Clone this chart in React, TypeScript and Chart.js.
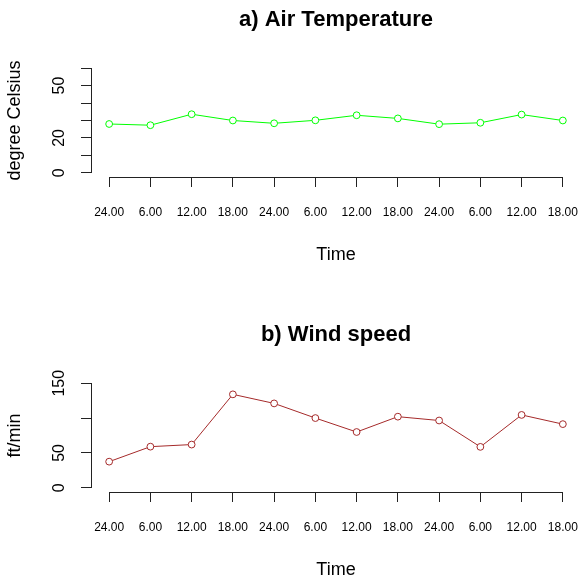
import React, { useEffect, useRef } from 'react';
import { Chart, registerables } from 'chart.js';

Chart.register(...registerables);

// ---- data ----
const timeLabels = ['24.00', '6.00', '12.00', '18.00', '24.00', '6.00', '12.00', '18.00', '24.00', '6.00', '12.00', '18.00'];
const airTemperature = [28.0, 27.3, 33.6, 30.0, 28.4, 30.1, 33.0, 31.2, 27.9, 28.7, 33.4, 30.0];
const windSpeed = [37.5, 59, 62, 134, 121, 100, 80, 102, 96.5, 58.7, 104.5, 91.3];
const tempTicks = [0, 10, 20, 30, 40, 50, 60];
const tempTickLabels = [0, 20, 50];
const windTicks = [0, 50, 100, 150];
const windTickLabels = [0, 50, 150];

const FONT = "'Liberation Sans', Arial, Helvetica, sans-serif";
const AXIS_COLOR = '#222';
const CANVAS_W = 586;
const CANVAS_H = 315;

type PanelProps = {
  title: string;
  yTitle: string;
  values: number[];
  color: string;
  yTicks: number[];
  yTickLabels: number[];
  yTickPadding: number;
};

const rAxesPlugin = {
  id: 'rAxes',
  afterDraw(chart: any) {
    const { ctx, chartArea, scales } = chart;
    const xs = scales.x;
    const ys = scales.y;
    const a = (p: number) => Math.round(p - 0.5) + 0.5;
    ctx.save();
    ctx.strokeStyle = AXIS_COLOR;
    ctx.lineWidth = 1;
    ctx.beginPath();
    // y axis (from first to last tick, R style)
    const yt = ys.ticks;
    const lx = a(chartArea.left);
    const y0 = a(ys.getPixelForValue(yt[0].value));
    const y1 = a(ys.getPixelForValue(yt[yt.length - 1].value));
    ctx.moveTo(lx, Math.max(y0, y1) + 0.5);
    ctx.lineTo(lx, Math.min(y0, y1) - 0.5);
    // x axis
    const xt = xs.ticks;
    const by = a(chartArea.bottom);
    const x0 = a(xs.getPixelForValue(xt[0].value));
    const x1 = a(xs.getPixelForValue(xt[xt.length - 1].value));
    ctx.moveTo(x0 - 0.5, by);
    ctx.lineTo(x1 + 0.5, by);
    ctx.stroke();
    ctx.restore();
  },
};

function Panel(props: PanelProps) {
  const ref = useRef<HTMLCanvasElement>(null);
  useEffect(() => {
    const { title, yTitle, values, color, yTicks, yTickLabels, yTickPadding } = props;
    const n = timeLabels.length;
    const xExt = (n - 1) * 0.04;
    const yLo = yTicks[0];
    const yHi = yTicks[yTicks.length - 1];
    const yExt = (yHi - yLo) * 0.04;
    const chart = new Chart(ref.current as HTMLCanvasElement, {
      type: 'line',
      data: {
        datasets: [
          {
            data: values.map((v, i) => ({ x: i, y: v })),
            borderColor: color,
            borderWidth: 1,
            pointRadius: 3.4,
            pointBorderWidth: 1,
            pointBorderColor: color,
            pointBackgroundColor: '#ffffff',
            pointStyle: 'circle',
            tension: 0,
            fill: false,
          },
        ],
      },
      options: {
        animation: false,
        responsive: false,
        devicePixelRatio: 1,
        events: [],
        layout: { padding: { left: 0, right: 0, top: 0, bottom: 38 } },
        plugins: {
          legend: { display: false },
          tooltip: { enabled: false },
          title: {
            display: true,
            text: title,
            fullSize: false,
            color: '#000',
            font: { family: FONT, size: 22, weight: 'bold' },
            padding: { top: 6.8, bottom: 30.8 },
          },
        },
        scales: {
          x: {
            type: 'linear',
            min: -xExt,
            max: n - 1 + xExt,
            afterBuildTicks: (scale: any) => {
              scale.ticks = timeLabels.map((_, i) => ({ value: i }));
            },
            afterFit: (scale: any) => {
              scale.height = 100;
              scale.paddingLeft = 0;
              scale.paddingRight = 0;
            },
            grid: {
              display: true,
              drawOnChartArea: false,
              drawTicks: true,
              tickLength: 10,
              color: AXIS_COLOR,
              lineWidth: 1,
            },
            border: { display: false },
            ticks: {
              autoSkip: false,
              minRotation: 0,
              maxRotation: 0,
              padding: 18.3,
              color: '#000',
              font: { family: FONT, size: 12 },
              callback: (v: any) => timeLabels[v as number] ?? '',
            },
            title: {
              display: true,
              text: 'Time',
              color: '#000',
              font: { family: FONT, size: 18 },
              padding: { top: 0, bottom: 10.7 },
            },
          },
          y: {
            type: 'linear',
            min: yLo - yExt,
            max: yHi + yExt,
            afterBuildTicks: (scale: any) => {
              scale.ticks = yTicks.map((v) => ({ value: v }));
            },
            afterFit: (scale: any) => {
              scale.width = 91;
              scale.paddingTop = 0;
              scale.paddingBottom = 0;
            },
            grid: {
              display: true,
              drawOnChartArea: false,
              drawTicks: true,
              tickLength: 10,
              color: AXIS_COLOR,
              lineWidth: 1,
            },
            border: { display: false },
            ticks: {
              autoSkip: false,
              minRotation: 90,
              maxRotation: 90,
              crossAlign: 'center',
              padding: yTickPadding,
              color: '#000',
              font: { family: FONT, size: 16 },
              callback: (v: any) => (yTickLabels.includes(v as number) ? String(v) : ''),
            },
            title: {
              display: true,
              text: yTitle,
              color: '#000',
              font: { family: FONT, size: 18 },
              padding: { top: 4.7, bottom: 0 },
            },
          },
        },
      } as any,
      plugins: [rAxesPlugin],
    });
    return () => chart.destroy();
  }, []);
  return (
    <canvas
      ref={ref}
      width={CANVAS_W}
      height={CANVAS_H}
      style={{ display: 'block', width: CANVAS_W, height: CANVAS_H }}
    />
  );
}

export default function App() {
  return (
    <div
      style={{
        position: 'fixed',
        left: 0,
        top: 0,
        width: 582,
        height: 577,
        overflow: 'hidden',
        background: '#ffffff',
      }}
    >
      <div style={{ position: 'absolute', left: 0, top: 0 }}>
        <Panel
          title="a) Air Temperature"
          yTitle="degree Celsius"
          values={airTemperature}
          color="#00FF00"
          yTicks={tempTicks}
          yTickLabels={tempTickLabels}
          yTickPadding={12.8}
        />
      </div>
      <div style={{ position: 'absolute', left: 0, top: 315 }}>
        <Panel
          title="b) Wind speed"
          yTitle="ft/min"
          values={windSpeed}
          color="#A52A2A"
          yTicks={windTicks}
          yTickLabels={windTickLabels}
          yTickPadding={8.4}
        />
      </div>
    </div>
  );
}
